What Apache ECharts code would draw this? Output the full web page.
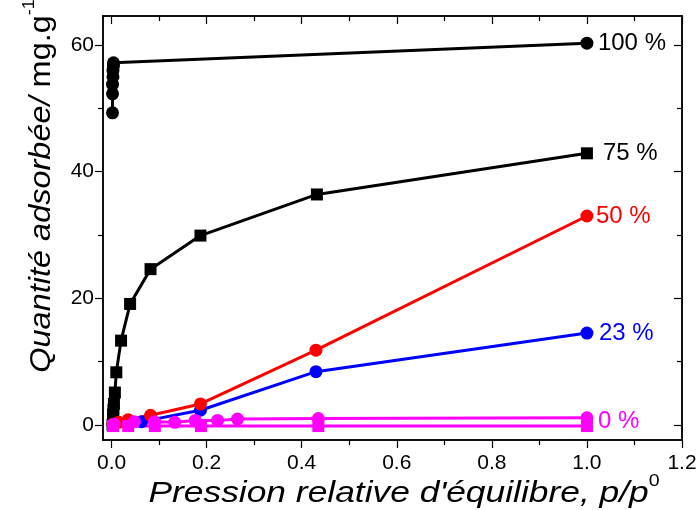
<!DOCTYPE html>
<html><head><meta charset="utf-8">
<script src="https://cdn.jsdelivr.net/npm/echarts@6/dist/echarts.min.js"></script>
<style>html,body{margin:0;padding:0;background:#fff}#c{width:700px;height:510px}</style>
</head><body><div id="c"></div>
<script>
// ---- data ----
const xMajorTicks = [0, 0.2, 0.4, 0.6, 0.8, 1.0, 1.2];
const xMinorTicks = [0.1, 0.3, 0.5, 0.7, 0.9, 1.1];
const yMajorTicks = [0, 20, 40, 60];
const yMinorTicks = [10, 30, 50];
const series100 = [[0.002,49.3],[0.002,52.3],[0.002,53.8],[0.003,55.0],[0.003,56.0],[0.004,56.7],[0.004,57.2],[1.0,60.3]];
const series75 = [[0.002,0.0],[0.003,0.8],[0.003,1.6],[0.004,2.4],[0.005,3.3],[0.007,5.1],[0.010,8.3],[0.020,13.3],[0.039,19.1],[0.082,24.6],[0.187,29.9],[0.432,36.4],[1.0,42.9]];
const series50 = [[0.003,0.1],[0.015,0.4],[0.035,0.8],[0.082,1.5],[0.187,3.3],[0.430,11.8],[1.0,33.0]];
const series23 = [[0.003,0.0],[0.035,0.2],[0.063,0.5],[0.187,2.3],[0.430,8.4],[1.0,14.5]];
const series0a = [[0.005,0.1],[0.048,0.5],[0.090,0.5],[0.133,0.4],[0.176,0.7],[0.223,0.7],[0.265,0.9],[0.435,1.0],[1.0,1.1]];
const series0b = [[0.003,-0.2],[0.035,-0.2],[0.091,-0.2],[0.188,-0.2],[0.435,-0.2],[1.0,-0.2]];
const seriesLabels = ['100 %','75 %','50 %','23 %','0 %'];

const XMIN = -0.018, XMAX = 1.2, YMIN = -2.4, YMAX = 64.6;
const FONT = 'Liberation Sans';

function xAx(pos, vals, len, inside, labels) {
  return {
    type:'value', position:pos, min:XMIN, max:XMAX,
    axisLine:{show:true, onZero:false, lineStyle:{color:'#000', width:1.5}},
    axisTick:{show:true, inside:inside, length:len, customValues:vals, lineStyle:{color:'#000', width:1.2}},
    axisLabel:{show:labels, customValues:vals, color:'#000', fontFamily:FONT, fontSize:21, margin:13,
      formatter:v=>v.toFixed(1)},
    splitLine:{show:false}
  };
}
function yAx(pos, vals, len, inside, labels) {
  return {
    type:'value', position:pos, min:YMIN, max:YMAX,
    axisLine:{show:true, onZero:false, lineStyle:{color:'#000', width:1.5}},
    axisTick:{show:true, inside:inside, length:len, customValues:vals, lineStyle:{color:'#000', width:1.2}},
    axisLabel:{show:labels, customValues:vals, color:'#000', fontFamily:FONT, fontSize:21, margin:9},
    splitLine:{show:false}
  };
}
function ser(data, color, symbol, size, label, lblDist, lblOff) {
  return {
    type:'line', xAxisIndex:0, yAxisIndex:0, data:data, symbol:symbol, symbolSize:size,
    lineStyle:{color:color, width:3}, itemStyle:{color:color}, animation:false,
    endLabel: label ? {show:true, formatter:label, color:color, fontFamily:FONT, fontSize:24,
      distance:lblDist, offset:lblOff || [0,0]} : {show:false}
  };
}
const chart = echarts.init(document.getElementById('c'), null, {renderer:'canvas'});
chart.setOption({
  animation:false,
  grid:{left:103, right:18, top:16, bottom:70},
  xAxis:[
    xAx('bottom', xMajorTicks, 8, false, true),
    xAx('bottom', xMinorTicks, 5, false, false),
    xAx('top', xMajorTicks, 8, true, false),
    xAx('top', xMinorTicks, 5, true, false)
  ],
  yAxis:[
    yAx('left', yMajorTicks, 8, false, true),
    yAx('left', yMinorTicks, 5, false, false),
    yAx('right', yMajorTicks, 8, true, false),
    yAx('right', yMinorTicks, 5, true, false)
  ],
  graphic:[
    {type:'text', x:39, y:186, rotation:Math.PI/2, scaleX:1.12, style:{
      text:'{i|Quantité adsorbée/ }{n|mg.g}{s|-1}', align:'center', verticalAlign:'middle',
      rich:{
        i:{fontFamily:FONT, fontStyle:'italic', fontSize:29, fill:'#000', lineHeight:34, verticalAlign:'bottom'},
        n:{fontFamily:FONT, fontSize:29, fill:'#000', lineHeight:34, verticalAlign:'bottom'},
        s:{fontFamily:FONT, fontSize:16, fill:'#000', lineHeight:34, verticalAlign:'top'}
      }}},
    {type:'text', x:404, y:491, scaleX:1.22, style:{
      text:'{i|Pression relative d\'équilibre, p/p}{s|0}', align:'center', verticalAlign:'middle',
      rich:{
        i:{fontFamily:FONT, fontStyle:'italic', fontSize:29, fill:'#000', lineHeight:34, verticalAlign:'bottom'},
        s:{fontFamily:FONT, fontSize:16, fill:'#000', lineHeight:34, verticalAlign:'top'}
      }}}
  ],
  series:[
    ser(series100, '#000000', 'circle', 13, seriesLabels[0], 11),
    ser(series75, '#000000', 'rect', 12, seriesLabels[1], 16),
    ser(series23, '#0000ff', 'circle', 13, seriesLabels[3], 12),
    ser(series50, '#ff0000', 'circle', 13, seriesLabels[2], 9),
    ser(series0a, '#ff00ff', 'circle', 13, null, 0),
    ser(series0b, '#ff00ff', 'rect', 12, seriesLabels[4], 11, [0,-5])
  ]
});
</script></body></html>
